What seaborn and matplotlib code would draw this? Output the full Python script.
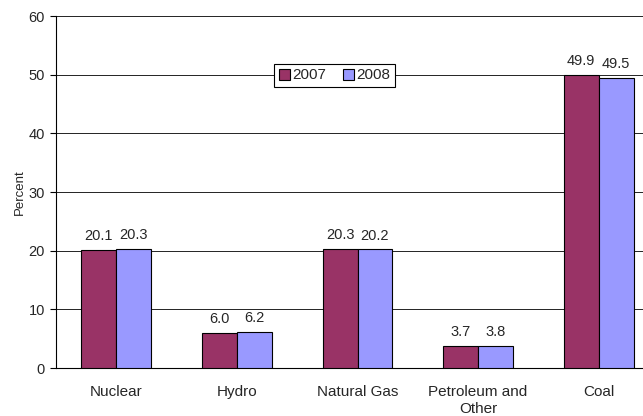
import pandas as pd
import seaborn as sns
import matplotlib.pyplot as plt

# data
categories = ["Nuclear", "Hydro", "Natural Gas", "Petroleum and\nOther", "Coal"]
years = ["2007", "2008"]
values_2007 = [20.1, 6.0, 20.3, 3.7, 49.9]
values_2008 = [20.3, 6.2, 20.2, 3.8, 49.5]

df = pd.DataFrame({
    "source": categories * 2,
    "year": [years[0]] * 5 + [years[1]] * 5,
    "percent": values_2007 + values_2008,
})

sns.set_style("white")
plt.rcParams["font.family"] = ["Liberation Sans", "DejaVu Sans"]

fig = plt.figure(figsize=(6.43, 4.16), dpi=100)
ax = fig.add_axes([56 / 643, 48 / 416, 603 / 643, 352 / 416])

sns.barplot(data=df, x="source", y="percent", hue="year", order=categories,
            palette=["#993366", "#9999FF"], width=0.58, gap=0,
            edgecolor="black", linewidth=0.8, saturation=1, ax=ax, zorder=3)

for cont in ax.containers:
    ax.bar_label(cont, fmt="%.1f", padding=5, fontsize=10.5)

ax.set_ylim(0, 60)
ax.set_yticks(range(0, 61, 10))
ax.set_xlim(-0.5, 4.5)
ax.yaxis.grid(True, color="black", linewidth=0.6, zorder=0)
ax.set_axisbelow(True)

# category tick marks sit between the groups
ax.set_xticks([i + 0.5 for i in range(-1, 5)], minor=True)
ax.tick_params(axis="x", which="major", length=0, labelsize=11, pad=12.5)
ax.tick_params(axis="x", which="minor", length=4, direction="out", color="black", width=0.8)
ax.tick_params(axis="y", length=4, direction="out", color="black", width=0.8, labelsize=10.5, left=True, pad=4)
for lbl in ax.get_xticklabels():
    lbl.set_linespacing(1.25)

for side in ["top", "right"]:
    ax.spines[side].set_visible(False)
for side in ["left", "bottom"]:
    ax.spines[side].set_color("black")
    ax.spines[side].set_linewidth(0.8)

ax.set_xlabel("")
ax.set_ylabel("Percent", fontsize=9.5, labelpad=2)

leg = ax.legend(title=None, ncol=2, loc="center", bbox_to_anchor=(0.462, 0.831),
                frameon=True, fancybox=False, fontsize=11, handlelength=0.72,
                handleheight=0.72, columnspacing=1.1, handletextpad=0.15,
                borderpad=0.3, borderaxespad=0, framealpha=1)
leg.get_frame().set_edgecolor("black")
leg.get_frame().set_linewidth(0.8)

plt.savefig("out.png", dpi=100)
